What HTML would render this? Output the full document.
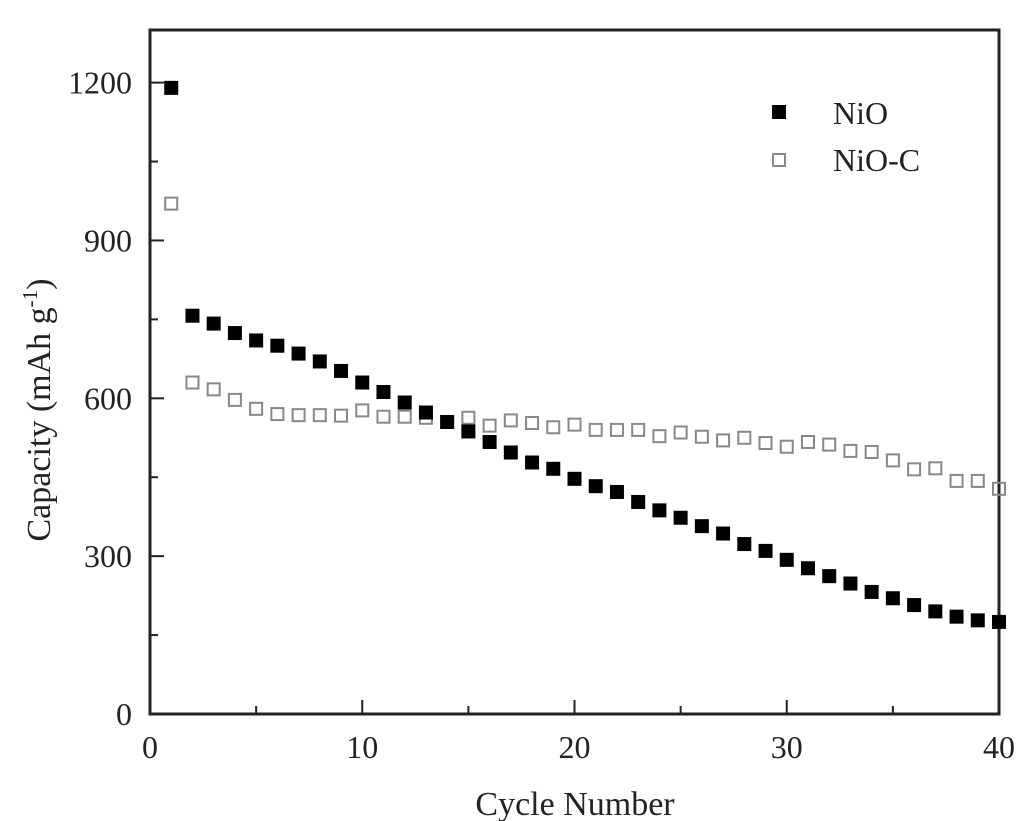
<!DOCTYPE html>
<html><head><meta charset="utf-8"><style>body{margin:0;background:#fff}svg{display:block}text{font-family:"Liberation Serif",serif;fill:#222}</style></head>
<body>
<svg id="c" width="1024" height="821"></svg>
<script>
const cycles=[];for(let i=1;i<=40;i++)cycles.push(i);
const nio=[1190,757,742,724,710,700,685,670,652,630,612,592,573,555,537,517,497,478,466,447,433,422,403,387,373,357,343,323,310,293,277,262,248,232,220,207,195,185,178,175];
const nioC=[970,630,617,597,580,570,568,568,567,577,565,565,563,555,563,548,558,553,545,550,540,540,540,528,535,527,520,525,515,508,517,512,500,498,482,465,467,443,443,428];
const xTicks=[0,10,20,30,40];
const yTicks=[0,300,600,900,1200];
const L=150,R=999,T=30,B=714,xMax=40,yMax=1300;
const X=v=>L+v/xMax*(R-L), Y=v=>B-v/yMax*(B-T);
const s=document.getElementById('c'),NS='http://www.w3.org/2000/svg';
function mk(t,a,p){const e=document.createElementNS(NS,t);for(const k in a)e.setAttribute(k,a[k]);(p||s).appendChild(e);return e;}
let e=mk('rect',{x:L,y:T,width:R-L,height:B-T,fill:'none',stroke:'#222','stroke-width':3});


xTicks.forEach(v=>{
 let t=mk('line',{x1:X(v),x2:X(v),y1:B,y2:B-14,stroke:'#222','stroke-width':2});
 
 
 let lb=mk('text',{x:X(v),y:B+44,'text-anchor':'middle','font-size':32});lb.textContent=v;
 
 
});
for(let v=5;v<40;v+=10){let t=mk('line',{x1:X(v),x2:X(v),y1:B,y2:B-8,stroke:'#222','stroke-width':2});
 
 }
yTicks.forEach(v=>{
 let t=mk('line',{x1:L,x2:L+14,y1:Y(v),y2:Y(v),stroke:'#222','stroke-width':2});
 
 
 let lb=mk('text',{x:L-18,y:Y(v)+11,'text-anchor':'end','font-size':32});lb.textContent=v;
 
 
});
for(let v=150;v<1300;v+=300){let t=mk('line',{x1:L,x2:L+8,y1:Y(v),y2:Y(v),stroke:'#222','stroke-width':2});
 
 }
cycles.forEach((c,i)=>{
 let m=mk('rect',{x:X(c)-6,y:Y(nioC[i])-6,width:12,height:12,fill:'none',stroke:'#888','stroke-width':2});
 
 
});
cycles.forEach((c,i)=>{
 let m=mk('rect',{x:X(c)-7,y:Y(nio[i])-7,width:14,height:14,fill:'#000'});
 
 
});
let g=mk('rect',{x:772,y:105,width:14,height:14,fill:'#000'});


let gt=mk('text',{x:833,y:124,'font-size':32});gt.textContent='NiO';


g=mk('rect',{x:773,y:154,width:12,height:12,fill:'none',stroke:'#888','stroke-width':2});


gt=mk('text',{x:833,y:171,'font-size':32});gt.textContent='NiO-C';


let xt=mk('text',{x:575,y:815,'text-anchor':'middle','font-size':34});xt.textContent='Cycle Number';


let yt=mk('text',{x:0,y:0,'text-anchor':'middle','font-size':34,transform:'translate(50,410) rotate(-90)'});
yt.innerHTML='Capacity (mAh g<tspan dy="-13" font-size="21">-1</tspan><tspan dy="13">)</tspan>';


</script>
</body></html>
